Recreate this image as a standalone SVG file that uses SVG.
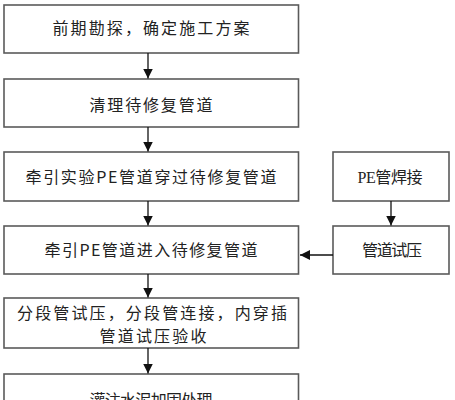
<svg xmlns="http://www.w3.org/2000/svg" width="455" height="400" viewBox="0 0 455 400">
<style>
.box{fill:#fff;stroke:#5a5a5a;stroke-width:1.6}
.t{font-family:"Noto Sans CJK SC","Liberation Serif",serif;font-size:16px;fill:#222;text-anchor:middle}
.s{font-family:"Liberation Serif","Noto Sans CJK SC",serif}
.c{stroke:#111;stroke-width:1.3;fill:none}
</style>
<defs>
<marker id="ah" markerUnits="userSpaceOnUse" markerWidth="12" markerHeight="12" refX="10" refY="5" orient="auto">
<path d="M0,0 L10,5 L0,10 Z" fill="#111"/>
</marker>
</defs>
<rect width="455" height="400" fill="#fff"/>
<g id="n1"><rect class="box" x="4" y="5" width="294.5" height="48"/><text class="t" x="151" y="34" textLength="197" lengthAdjust="spacing">前期勘探，确定施工方案</text></g>
<g id="n2"><rect class="box" x="4" y="79" width="294.5" height="48"/><text class="t" x="151" y="111" textLength="123" lengthAdjust="spacing">清理待修复管道</text></g>
<g id="n3"><rect class="box" x="4" y="152" width="294.5" height="49"/><text class="t" x="151" y="183" textLength="251" lengthAdjust="spacing">牵引实验PE管道穿过待修复管道</text></g>
<g id="n4"><rect class="box" x="4" y="226" width="294.5" height="48"/><text class="t" x="151" y="256" textLength="213" lengthAdjust="spacing">牵引PE管道进入待修复管道</text></g>
<g id="n5"><rect class="box" x="4" y="298" width="294.5" height="50"/><text class="t" x="152" y="319" textLength="270" lengthAdjust="spacing">分段管试压，分段管连接，内穿插</text><text class="t" x="153" y="342" textLength="107" lengthAdjust="spacing">管道试压验收</text></g>
<g id="n6"><rect class="box" x="4" y="374" width="294.5" height="40"/><text class="t" x="151" y="406" textLength="123" lengthAdjust="spacing">灌注水泥加固处理</text></g>
<g id="n7"><rect class="box" x="333" y="152" width="116" height="49"/><text class="t s" x="390" y="183" textLength="65" lengthAdjust="spacing">PE管焊接</text></g>
<g id="n8"><rect class="box" x="333" y="226" width="116" height="48"/><text class="t" x="392" y="256" textLength="60" lengthAdjust="spacing">管道试压</text></g>
<g id="connectors">
<line class="c" x1="148" y1="53" x2="148" y2="78.5" marker-end="url(#ah)"/>
<line class="c" x1="148" y1="127" x2="148" y2="151.5" marker-end="url(#ah)"/>
<line class="c" x1="148" y1="201" x2="148" y2="225.5" marker-end="url(#ah)"/>
<line class="c" x1="148" y1="274" x2="148" y2="297.5" marker-end="url(#ah)"/>
<line class="c" x1="148" y1="348" x2="148" y2="373.5" marker-end="url(#ah)"/>
<line class="c" x1="391" y1="201" x2="391" y2="225.5" marker-end="url(#ah)"/>
<line class="c" x1="333" y1="255" x2="300" y2="255" marker-end="url(#ah)"/>
</g>
</svg>
